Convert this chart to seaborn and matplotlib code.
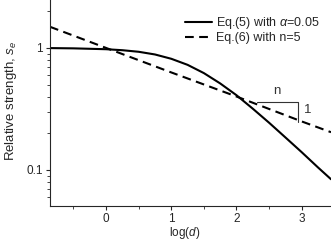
import matplotlib
matplotlib.use("Agg")
import matplotlib.pyplot as plt
import matplotlib.ticker as mticker
import seaborn as sns
import pandas as pd

# Eq.(5) with alpha=0.05 (solid curve)
logd_eq5 = [-0.86, -0.5, 0.0, 0.25, 0.5, 0.75, 1.0, 1.25, 1.5, 1.75, 2.0, 2.25, 2.5, 2.75, 3.0, 3.25, 3.45]
s_eq5 = [0.997, 0.992, 0.976, 0.958, 0.93, 0.884, 0.815, 0.727, 0.622, 0.512, 0.41, 0.318, 0.244, 0.185, 0.14, 0.105, 0.084]

# Eq.(6) with n=5 (dashed line)
logd_eq6 = [-0.86, 0.0, 1.0, 2.0, 3.0, 3.45]
s_eq6 = [1.49, 1.0, 0.63, 0.40, 0.25, 0.204]

# slope triangle
tri_x = [2.32, 2.95, 2.95]
tri_y = [0.361, 0.361, 0.247]

df5 = pd.DataFrame({"logd": logd_eq5, "s": s_eq5})
df6 = pd.DataFrame({"logd": logd_eq6, "s": s_eq6})

sns.set_style("ticks")
plt.rcParams["font.family"] = ["Liberation Sans", "DejaVu Sans"]
plt.rcParams["mathtext.fontset"] = "custom"
plt.rcParams["mathtext.rm"] = "Liberation Sans"
plt.rcParams["mathtext.it"] = "Liberation Sans:italic"

fig = plt.figure(figsize=(3.31, 2.40), dpi=100)
ax = fig.add_axes([50 / 331, 34 / 240, 281 / 331, 206 / 240])

sns.lineplot(data=df5, x="logd", y="s", ax=ax, color="black", lw=1.5,
             label=r"Eq.(5) with $\alpha$=0.05")
sns.lineplot(data=df6, x="logd", y="s", ax=ax, color="black", lw=1.5,
             label="Eq.(6) with n=5")
ax.lines[1].set_dashes((4.2, 2.6))

ax.plot(tri_x, tri_y, color="#333333", lw=0.8)
ax.text(2.62, 0.444, "n", fontsize=9.5, color="#333333", ha="center", va="center")
ax.text(3.09, 0.31, "1", fontsize=9.5, color="#333333", ha="center", va="center")

ax.set_yscale("log")
ax.set_xlim(-0.86, 3.45)
ax.set_ylim(0.0507, 2.47)
ax.set_xticks([0, 1, 2, 3])
ax.xaxis.set_minor_locator(mticker.MultipleLocator(0.5))
ax.yaxis.set_major_locator(mticker.FixedLocator([0.1, 1]))
ax.yaxis.set_major_formatter(mticker.FixedFormatter(["0.1", "1"]))
ax.yaxis.set_minor_locator(mticker.LogLocator(base=10, subs=range(2, 10)))
ax.yaxis.set_minor_formatter(mticker.NullFormatter())
ax.tick_params(which="major", length=3, width=0.8, labelsize=8.5, pad=2)
ax.tick_params(which="minor", length=2, width=0.6)

ax.set_xlabel(r"log($d$)", fontsize=8.5)
ax.set_ylabel(r"Relative strength, $s_e$", fontsize=9.5)
ax.xaxis.set_label_coords(0.48, -0.092)
ax.yaxis.set_label_coords(-0.112, 0.51)
for side in ["top", "right"]:
    ax.spines[side].set_visible(False)
for side in ["left", "bottom"]:
    ax.spines[side].set_linewidth(0.8)

ax.legend(loc="upper left", bbox_to_anchor=(0.4626, 0.95), frameon=False,
          fontsize=9, handlelength=2.2, handletextpad=0.25, labelspacing=0.05,
          borderaxespad=0)

fig.savefig("out.png", dpi=100)
